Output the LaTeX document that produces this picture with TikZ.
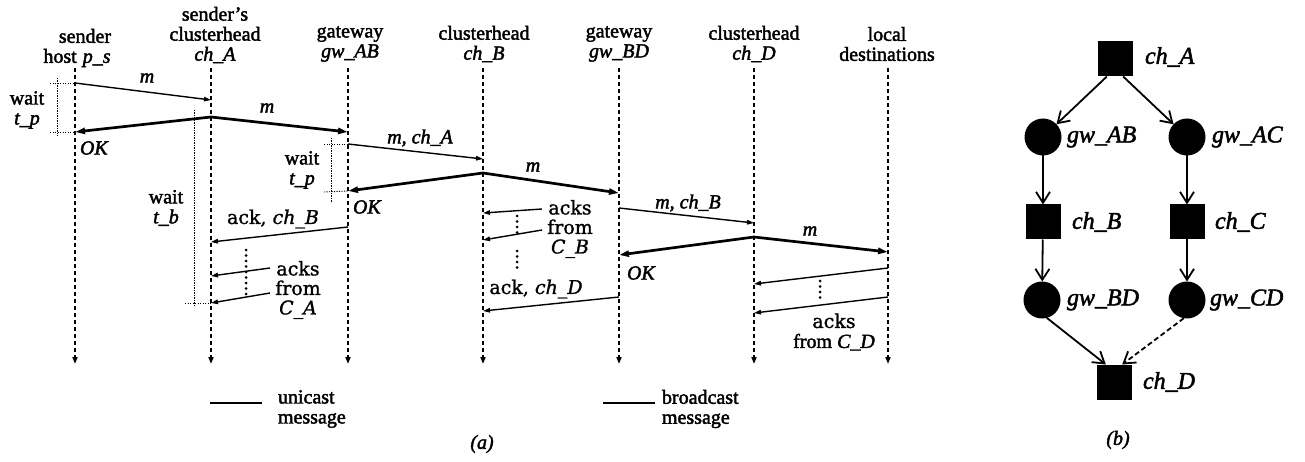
\documentclass[tikz,border=0pt]{standalone}
\usepackage{fontspec}
\setmainfont{Liberation Serif}[FakeBold=2]
\newfontfamily\ackfont{DejaVu Serif}[FakeBold=1.2]
\usetikzlibrary{arrows.meta}
\begin{document}
\begin{tikzpicture}[x=1pt,y=-1pt,
  every node/.style={inner sep=0pt, outer sep=0pt, font=\fontsize{20}{20}\selectfont},
  hdr/.style={align=center},
  lifeline/.style={line width=1.7pt, dash pattern=on 4pt off 3pt, -{Triangle[length=7pt,width=5pt]}},
  unicast/.style={line width=1.4pt, -{Triangle[length=7pt,width=4.5pt]}},
  bcast/.style={line width=2.7pt, -{Triangle[length=10pt,width=6pt]}},
  waitbar/.style={line width=0.9pt, dash pattern=on 1.2pt off 1.3pt},
  dotcol/.style={line width=3pt, line cap=round, dash pattern=on 0pt off 5.5pt},
  ackt/.style={font=\fontsize{19}{19.5}\selectfont\ackfont, align=center},
  msg/.style={font=\fontsize{20}{20}\selectfont\itshape},
  chnode/.style={fill=black, draw=none, minimum size=35pt},
  gwnode/.style={fill=black, draw=none, circle, minimum size=37pt},
  glabel/.style={font=\fontsize{24}{24}\selectfont\itshape},
  barb/.style={line width=1.8pt, -{Straight Barb[length=11pt,width=14pt]}},
]
\useasboundingbox (0,0) rectangle (1305,462);

% ---------- headers ----------
\node[hdr] (hPS) at (77,48) {\hspace*{16pt}sender\\host\hspace{6pt}\textit{p\_s}};
\node[hdr] (hCA) at (215,35) {sender's\\clusterhead\\\textit{ch\_A}};
\node[hdr] (hGA) at (350,44) {gateway\\\textit{gw\_AB}};
\node[hdr] (hCB) at (484,44) {clusterhead\\\textit{ch\_B}};
\node[hdr] (hGB) at (619,44) {gateway\\\textit{gw\_BD}};
\node[hdr] (hCD) at (754,44) {clusterhead\\\textit{ch\_D}};
\node[hdr] (hLD) at (887,44) {local\\destinations};

% ---------- lifelines ----------
\foreach \n/\x in {PS/75, CA/211, GA/348, CB/483, GB/619, CD/754, LD/888}{
  \coordinate (\n top) at (\x,68);
  \coordinate (\n bot) at (\x,364);
  \draw[lifeline] (\n top) -- (\n bot);
}

% ---------- message end points ----------
\coordinate (m1a) at (75,83);   \coordinate (m1b) at (211,100);
\coordinate (b1s) at (211,117); \coordinate (b1l) at (75,132);  \coordinate (b1r) at (348,132);
\coordinate (m2a) at (348,144); \coordinate (m2b) at (483,159);
\coordinate (b2s) at (483,173); \coordinate (b2l) at (348,191); \coordinate (b2r) at (619,193);
\coordinate (k1a) at (348,227); \coordinate (k1b) at (211,242);
\coordinate (aA1a) at (270,268); \coordinate (aA1b) at (211,276);
\coordinate (aA2a) at (270,293); \coordinate (aA2b) at (211,303);
\coordinate (aB1a) at (542,209); \coordinate (aB1b) at (483,213);
\coordinate (aB2a) at (542,230); \coordinate (aB2b) at (483,240);
\coordinate (m3a) at (619,208); \coordinate (m3b) at (754,223);
\coordinate (b3s) at (754,237); \coordinate (b3l) at (619,255); \coordinate (b3r) at (888,252);
\coordinate (k2a) at (619,297); \coordinate (k2b) at (483,311);
\coordinate (aD1a) at (888,268); \coordinate (aD1b) at (754,284);
\coordinate (aD2a) at (888,297); \coordinate (aD2b) at (754,313);

% ---------- unicast messages ----------
\draw[unicast] (m1a) -- (m1b);
\draw[unicast] (m2a) -- (m2b);
\draw[unicast] (k1a) -- (k1b);
\draw[unicast] (m3a) -- (m3b);
\draw[unicast] (k2a) -- (k2b);
\draw[unicast] (aA1a) -- (aA1b);
\draw[unicast] (aA2a) -- (aA2b);
\draw[unicast] (aB1a) -- (aB1b);
\draw[unicast] (aB2a) -- (aB2b);
\draw[unicast] (aD1a) -- (aD1b);
\draw[unicast] (aD2a) -- (aD2b);

% ---------- broadcast messages ----------
\draw[bcast] (b1s) -- (b1l);
\draw[bcast] (b1s) -- (b1r);
\draw[bcast] (b2s) -- (b2l);
\draw[bcast] (b2s) -- (b2r);
\draw[bcast] (b3s) -- (b3l);
\draw[bcast] (b3s) -- (b3r);

% ---------- message labels ----------
\node[msg] (lm1) at (147,78) {m};
\node[msg] (lb1) at (267,108) {m};
\node[msg] (lm2) at (420,138) {m, ch\_A};
\node[msg] (lb2) at (533,167) {m};
\node[msg] (lm3) at (688,203) {m, ch\_B};
\node[msg] (lb3) at (810,231) {m};
\node[msg, anchor=west] (ok1) at (80,148) {OK};
\node[msg, anchor=west] (ok2) at (353,207) {OK};
\node[msg, anchor=west] (ok3) at (627,273) {OK};
\node[ackt] (lk1) at (273,219) {ack, \textit{ch\_B}};
\node[ackt] (lk2) at (536,289) {ack, \textit{ch\_D}};
\node[ackt] (lA) at (298,290) {acks\\from\\\textit{C\_A}};
\node[ackt] (lB) at (570,229) {acks\\from\\\textit{C\_B}};
\node[align=center] (lD) at (834,332) {{\ackfont\fontsize{19}{19.5}\selectfont acks}\\from \textit{C\_D}};

% ---------- dotted continuation marks ----------
\draw[dotcol] (246,250) -- (246,297);
\draw[dotcol] (517,216) -- (517,234);
\draw[dotcol] (517,251) -- (517,269);
\draw[dotcol] (820,281) -- (820,298);

% ---------- waiting periods ----------
\coordinate (wPt) at (57,78);  \coordinate (wPb) at (57,136);
\draw[waitbar] (wPt) -- (wPb);
\draw[waitbar] (50,83) -- (m1a);
\draw[waitbar] (50,132) -- (b1l);
\node[hdr] (wP) at (27,110) {wait\\\textit{t\_p}};

\coordinate (wBt) at (194,110); \coordinate (wBb) at (194,306);
\draw[waitbar] (wBt) -- (wBb);
\draw[waitbar] (185,303) -- (aA2b);
\node[hdr] (wB) at (166,208) {wait\\\textit{t\_b}};

\coordinate (wGt) at (331,138); \coordinate (wGb) at (331,203);
\draw[waitbar] (wGt) -- (wGb);
\draw[waitbar] (324,144) -- (m2a);
\draw[waitbar] (324,192) -- (b2l);
\node[hdr] (wG) at (302,170) {wait\\\textit{t\_p}};

% ---------- legend ----------
\coordinate (lu1) at (210,403); \coordinate (lu2) at (262,403);
\draw[line width=1.4pt] (lu1) -- (lu2);
\node[align=left, anchor=west] (lut) at (278,409) {unicast\\message};
\coordinate (lb1a) at (603,403); \coordinate (lb2a) at (655,403);
\draw[line width=2.7pt] (lb1a) -- (lb2a);
\node[align=left, anchor=west] (lbt) at (662,409) {broadcast\\message};
\node[msg] (capa) at (482,444) {(a)};

% ---------- routing graph ----------
\node[chnode] (chA) at (1115,59) {};
\node[gwnode] (gwAB) at (1043,137) {};
\node[gwnode] (gwAC) at (1187,137) {};
\node[chnode] (chB) at (1043,222) {};
\node[chnode] (chC) at (1187,222) {};
\node[gwnode] (gwBD) at (1042,300) {};
\node[gwnode] (gwCD) at (1187,300) {};
\node[chnode] (chD) at (1114,382) {};

\node[glabel, anchor=west] (tA) at (1145,57) {ch\_A};
\node[glabel, anchor=west] (tAB) at (1067,137) {gw\_AB};
\node[glabel, anchor=west] (tAC) at (1212,137) {gw\_AC};
\node[glabel, anchor=west] (tB) at (1072,222) {ch\_B};
\node[glabel, anchor=west] (tC) at (1215,222) {ch\_C};
\node[glabel, anchor=west] (tBD) at (1067,300) {gw\_BD};
\node[glabel, anchor=west] (tCD) at (1210,300) {gw\_CD};
\node[glabel, anchor=west] (tD) at (1143,382) {ch\_D};

\draw[barb] (chA.-115) -- (gwAB);
\draw[barb] (chA.-65) -- (gwAC);
\draw[barb] (gwAB) -- (chB);
\draw[barb] (gwAC) -- (chC);
\draw[barb] (chB) -- (gwBD);
\draw[barb] (chC) -- (gwCD);
\draw[barb] (gwBD.-75) -- (chD.115);
\draw[barb, dash pattern=on 5pt off 3pt] (gwCD.-100) -- (chD.65);

\node[msg] (capb) at (1118,440) {(b)};
\end{tikzpicture}
\end{document}
